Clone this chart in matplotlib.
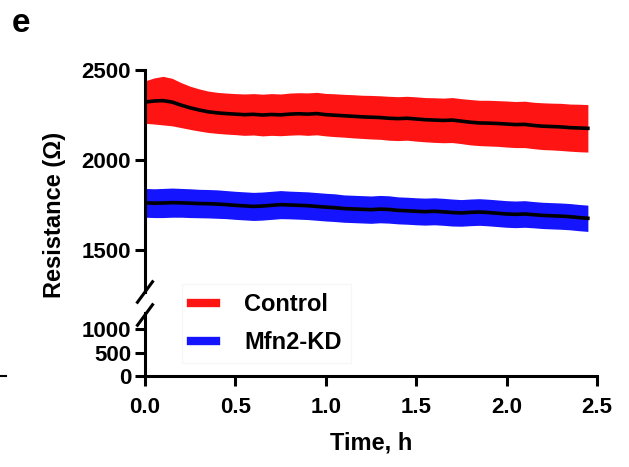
import numpy as np
import matplotlib.pyplot as plt
from matplotlib.lines import Line2D

plt.rcParams['font.family'] = ['Liberation Sans', 'DejaVu Sans']
plt.rcParams['font.weight'] = 'bold'

# time (h)
time_h = [0.00, 0.05, 0.10, 0.15, 0.20, 0.25, 0.30, 0.35, 0.40, 0.45,
          0.50, 0.55, 0.60, 0.65, 0.70, 0.75, 0.80, 0.85, 0.90, 0.95,
          1.00, 1.05, 1.10, 1.15, 1.20, 1.25, 1.30, 1.35, 1.40, 1.45,
          1.50, 1.55, 1.60, 1.65, 1.70, 1.75, 1.80, 1.85, 1.90, 1.95,
          2.00, 2.05, 2.10, 2.15, 2.20, 2.25, 2.30, 2.35, 2.40, 2.45]

control_mean = [2322, 2328, 2330, 2322, 2305, 2290, 2278, 2268, 2262, 2258,
                2255, 2252, 2254, 2250, 2253, 2251, 2255, 2257, 2255, 2258,
                2252, 2249, 2246, 2243, 2240, 2238, 2236, 2232, 2230, 2232,
                2228, 2224, 2222, 2220, 2222, 2216, 2210, 2206, 2205, 2203,
                2200, 2197, 2198, 2192, 2188, 2186, 2184, 2180, 2178, 2176]
control_sem = [118, 128, 135, 132, 125, 120, 117, 115, 114, 114,
               114, 115, 115, 116, 116, 116, 117, 117, 118, 118,
               118, 119, 119, 120, 120, 121, 121, 122, 122, 122,
               123, 123, 124, 124, 125, 125, 126, 126, 127, 127,
               128, 128, 129, 129, 130, 130, 131, 131, 132, 132]

kd_mean = [1762, 1760, 1761, 1763, 1762, 1760, 1758, 1757, 1755, 1752,
           1748, 1745, 1742, 1744, 1748, 1752, 1750, 1748, 1746, 1742,
           1738, 1735, 1730, 1728, 1726, 1724, 1727, 1725, 1720, 1718,
           1715, 1713, 1715, 1712, 1708, 1706, 1709, 1711, 1708, 1704,
           1700, 1698, 1700, 1696, 1692, 1690, 1688, 1685, 1680, 1676]
kd_sem = [80, 80, 81, 81, 80, 80, 79, 79, 79, 78,
          78, 78, 78, 78, 78, 78, 77, 77, 77, 77,
          77, 77, 76, 76, 76, 76, 76, 76, 75, 75,
          75, 75, 75, 75, 75, 74, 74, 74, 74, 74,
          74, 74, 74, 73, 73, 73, 73, 73, 73, 73]

series = [("Control", control_mean, control_sem, "#ff1414"),
          ("Mfn2-KD", kd_mean, kd_sem, "#1414ff")]

fig = plt.figure(figsize=(6.29, 4.67), dpi=100)
ax_top = fig.add_axes([0.2305, 0.375, 0.7185, 0.475])
ax_bot = fig.add_axes([0.2305, 0.195, 0.7185, 0.135])

t = np.array(time_h)
for name, m, s, c in series:
    m = np.array(m)
    s = np.array(s)
    for ax in (ax_top, ax_bot):
        ax.fill_between(t, m - s, m + s, color=c, lw=0)
        ax.plot(t, m, color="black", lw=2.6)

for ax in (ax_top, ax_bot):
    ax.set_xlim(0, 2.5)
    for side in ("top", "right"):
        ax.spines[side].set_visible(False)
    ax.spines["left"].set_linewidth(2.2)
    ax.spines["bottom"].set_linewidth(2.2)
    ax.tick_params(width=2.2, length=7, labelsize=16, pad=3)

ax_top.set_ylim(1267, 2500)
ax_top.set_yticks([1500, 2000, 2500])
ax_top.spines["bottom"].set_visible(False)
ax_top.set_xticks([])

ax_bot.set_ylim(0, 1350)
ax_bot.set_yticks([0, 500, 1000])
ax_bot.set_xticks([0.0, 0.5, 1.0, 1.5, 2.0, 2.5])
ax_bot.set_xticklabels(["0.0", "0.5", "1.0", "1.5", "2.0", "2.5"],
                       fontweight="bold", fontsize=16)
ax_bot.tick_params(axis="x", pad=8)
ax_bot.set_yticklabels(["0", "500", "1000"], fontweight="bold", fontsize=16)
ax_top.set_yticklabels(["1500", "2000", "2500"], fontweight="bold", fontsize=16)
ax_bot.set_xlabel("Time, h", fontsize=17, fontweight="bold", labelpad=10)

# break marks on the y axis
x0 = 145 / 629
for yc in (292 / 467, 315 / 467):
    yf = 1 - yc
    fig.add_artist(Line2D([x0 - 0.012, x0 + 0.012], [yf - 0.022, yf + 0.022],
                          color="black", lw=2.2, transform=fig.transFigure))

fig.text(55 / 629, 1 - 215 / 467, "Resistance (Ω)", rotation=90,
         ha="center", va="center", fontsize=17, fontweight="bold")
fig.text(12 / 629, 1 - 24 / 467, "e", fontsize=24, fontweight="bold",
         ha="left", va="center")
fig.add_artist(Line2D([0, 6 / 629], [1 - 376 / 467, 1 - 376 / 467],
                      color="black", lw=1.5, transform=fig.transFigure))

handles = [Line2D([0], [0], color=c, lw=6) for _, _, _, c in series]
leg = fig.legend(handles, [n for n, _, _, _ in series],
                 loc="upper left", bbox_to_anchor=(170 / 629, 1 - 272 / 467),
                 frameon=True, fancybox=False,
                 handlelength=1.05, handletextpad=1.2, labelspacing=0.62,
                 borderpad=0.4, prop={"weight": "bold", "size": 17})
leg.get_frame().set_edgecolor("#f4f4f4")
leg.get_frame().set_linewidth(0.8)

fig.savefig("out.png", dpi=100)
